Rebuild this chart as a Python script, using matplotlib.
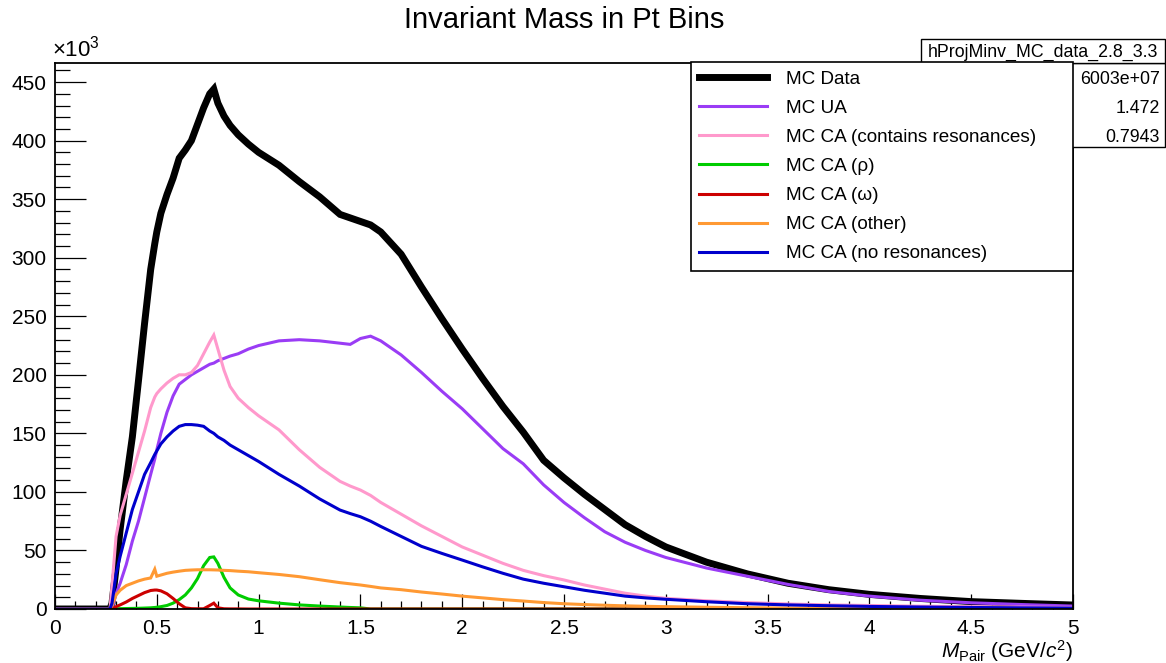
import matplotlib
matplotlib.use("Agg")
import matplotlib.pyplot as plt
from matplotlib.patches import Rectangle
from matplotlib.ticker import MultipleLocator

plt.rcParams['font.family'] = ['Liberation Sans', 'DejaVu Sans']
plt.rcParams['mathtext.fontset'] = 'custom'
plt.rcParams['mathtext.rm'] = 'Liberation Sans'
plt.rcParams['mathtext.it'] = 'Liberation Sans:italic'

# pair mass (GeV/c^2) sample points
mass = [0, 0.27, 0.28, 0.30, 0.32, 0.35, 0.38, 0.41, 0.44, 0.47,
        0.49, 0.50, 0.52, 0.55, 0.58, 0.61, 0.64, 0.67, 0.70, 0.73,
        0.76, 0.78, 0.80, 0.83, 0.86, 0.90, 0.95, 1.0, 1.1, 1.2,
        1.3, 1.4, 1.45, 1.5, 1.55, 1.6, 1.7, 1.8, 1.9, 2.0,
        2.1, 2.2, 2.3, 2.4, 2.5, 2.6, 2.7, 2.8, 2.9, 3.0,
        3.2, 3.4, 3.6, 3.8, 4.0, 4.25, 4.5, 4.75, 5.0]

# counts in units of 10^3
mc_data = [0, 0, 5, 35, 68, 110, 147, 195, 244, 290,
           312, 322, 338, 354, 368, 385, 392, 400, 414, 428,
           440, 444, 432, 421, 413, 405, 397, 390, 379, 365,
           352, 337, 334, 331, 328, 322, 303, 275, 248, 222,
           197, 173, 151, 127, 112, 98, 85, 72, 62, 53,
           40, 30, 22, 16.5, 12.5, 9, 6.3, 4.8, 3.4]

mc_ua = [0, 0, 0, 13, 22, 38, 58, 75, 95, 115,
         128, 136, 150, 168, 182, 192, 196, 200, 203, 206,
         209, 210, 212, 214, 216, 218, 222, 225, 229, 230,
         229, 227, 226, 231, 233, 229, 217, 202, 186, 171,
         154, 137, 124, 106, 91, 78, 66, 57, 50, 44,
         35, 28, 21, 15, 11, 7.5, 5.3, 3.8, 2.5]

mc_ca_res = [0, 0, 20, 62, 80, 98, 116, 134, 152, 172,
             181, 184, 188, 193, 197, 200, 200, 202, 208, 218,
             228, 234, 222, 204, 190, 180, 172, 165, 153, 136,
             121, 109, 105, 101.6, 97, 91, 81, 71, 62, 53,
             46, 39, 33, 28.5, 24.8, 20.5, 17, 13.5, 11, 9.1,
             7, 5.5, 4.3, 3.5, 3, 2.4, 2, 1.6, 1.3]

mc_rho = [0, 0, 0, 0.2, 0.3, 0.4, 0.5, 0.6, 0.8, 1,
          1.3, 1.5, 2, 3, 5, 8, 12, 18, 26, 37,
          44, 44.5, 39, 27, 18, 12, 8.5, 7, 5, 3.5,
          2.5, 1.7, 1.3, 1, 0, 0, 0, 0, 0, 0,
          0, 0, 0, 0, 0, 0, 0, 0, 0, 0,
          0, 0, 0, 0, 0, 0, 0, 0, 0]

mc_omega = [0, 0, 0, 2, 3.5, 6, 9, 11.5, 14, 15.8,
            16.2, 16.2, 15.5, 13, 9, 4.5, 1, 0.3, 0.2, 0.2,
            3, 5, 1, 0.2, 0.1, 0.1, 0, 0, 0, 0,
            0, 0, 0, 0, 0, 0, 0, 0, 0, 0,
            0, 0, 0, 0, 0, 0, 0, 0, 0, 0,
            0, 0, 0, 0, 0, 0, 0, 0, 0]

mc_other = [0, 0, 3, 12, 16, 20, 22, 24, 25.5, 26.5,
            34, 28, 29, 30.5, 31.5, 32.3, 33, 33.3, 33.5, 33.5,
            33.5, 33.4, 33.3, 33, 32.8, 32.3, 31.8, 31, 29.5, 27.6,
            25, 22.5, 21.5, 20.5, 19.3, 18, 16.5, 14.5, 12.8, 11,
            9.5, 8, 6.8, 5.5, 4.5, 3.8, 3.2, 2.7, 2.3, 2,
            1.5, 1.1, 0.8, 0.6, 0.5, 0.4, 0.35, 0.3, 0.3]

mc_nores = [0, 0, 5, 30, 45, 65, 85, 100, 115, 125,
            132, 135, 141, 147, 152, 156, 157.5, 157.5, 157, 156,
            152, 150, 147, 144, 140, 136, 131, 126, 115, 105,
            94, 84.5, 81.5, 78.8, 75, 70.5, 62, 53.5, 47.5, 41.8,
            36, 30.5, 25.5, 22, 19, 16, 13.5, 11, 9.5, 8.3,
            6.2, 4.5, 3.5, 2.8, 2.2, 1.7, 1.3, 1.0, 0.8]

series = [
    ("MC Data", mc_data, "#000000", 5.0),
    ("MC UA", mc_ua, "#9a3cf5", 2.2),
    ("MC CA (contains resonances)", mc_ca_res, "#ff99cc", 2.2),
    ("MC CA (\u03c1)", mc_rho, "#00cc00", 2.2),
    ("MC CA (\u03c9)", mc_omega, "#cc0000", 2.2),
    ("MC CA (other)", mc_other, "#ff9933", 2.2),
    ("MC CA (no resonances)", mc_nores, "#0000cc", 2.2),
]

W, H = 1166, 663
fig = plt.figure(figsize=(W / 100, H / 100), dpi=100)
ax = fig.add_axes([55 / W, 1 - 609 / H, (1073 - 55) / W, (609 - 63) / H])

for name, vals, col, lw in series:
    ax.plot(mass, vals, color=col, lw=lw, label=name, solid_joinstyle='miter')

ax.set_xlim(0, 5)
ax.set_ylim(0, 466.3)
ax.xaxis.set_minor_locator(MultipleLocator(0.1))
ax.yaxis.set_major_locator(MultipleLocator(50))
ax.yaxis.set_minor_locator(MultipleLocator(10))
ax.set_xticks([0, 0.5, 1, 1.5, 2, 2.5, 3, 3.5, 4, 4.5, 5])
ax.set_xticklabels(["0", "0.5", "1", "1.5", "2", "2.5", "3", "3.5", "4", "4.5", "5"])
ax.tick_params(axis='both', which='both', direction='in', labelsize=15, width=0.9)
ax.tick_params(axis='x', which='major', length=11, pad=7)
ax.tick_params(axis='x', which='minor', length=5.5)
ax.tick_params(axis='y', which='major', length=22, pad=6)
ax.tick_params(axis='y', which='minor', length=11)
for s in ax.spines.values():
    s.set_linewidth(1.3)

fig.text(564 / W, 1 - 20 / H, "Invariant Mass in Pt Bins", ha='center', va='center', fontsize=21)
fig.text(52 / W, 1 - 49 / H, r"$\times10^{3}$", ha='left', va='center', fontsize=16)
fig.text(1073 / W, 1 - 651 / H, r"$M_{\mathrm{Pair}}$ (GeV/$c^{2}$)", ha='right', va='center', fontsize=15)

# stats box (left part hidden behind the legend)
tf = fig.transFigure
ax.add_patch(Rectangle((921 / W, 1 - 147 / H), (1165 - 921) / W, (147 - 63) / H, transform=tf,
                       facecolor='white', edgecolor='black', lw=1.0, clip_on=False, zorder=4))
ax.add_patch(Rectangle((921 / W, 1 - 63 / H), (1165 - 921) / W, (63 - 39) / H, transform=tf,
                       facecolor='white', edgecolor='black', lw=1.0, clip_on=False, zorder=4))
ax.text(1043 / W, 1 - 52 / H, "hProjMinv_MC_data_2.8_3.3", transform=tf, ha='center', va='center',
        fontsize=12.8, zorder=4.1, clip_on=False)
stat_vals = ["6003e+07", "1.472", "0.7943"]
for i, v in enumerate(stat_vals):
    yy = 1 - (80 + 28.5 * i) / H
    ax.text(1160 / W, yy, v, transform=tf, ha='right', va='center', fontsize=12.8, zorder=4.1, clip_on=False)

leg = ax.legend(loc='upper left', bbox_to_anchor=(691 / W, 1 - 268 / H, (1073 - 691) / W, (268 - 62) / H),
                bbox_transform=tf, mode='expand', borderaxespad=0, fontsize=13.6, handlelength=3.6,
                handletextpad=1.0, labelspacing=0.63, borderpad=0.45, fancybox=False, framealpha=1,
                edgecolor='black')
leg.get_frame().set_linewidth(1.2)
leg.set_zorder(6)

fig.savefig("out.png", dpi=100)
